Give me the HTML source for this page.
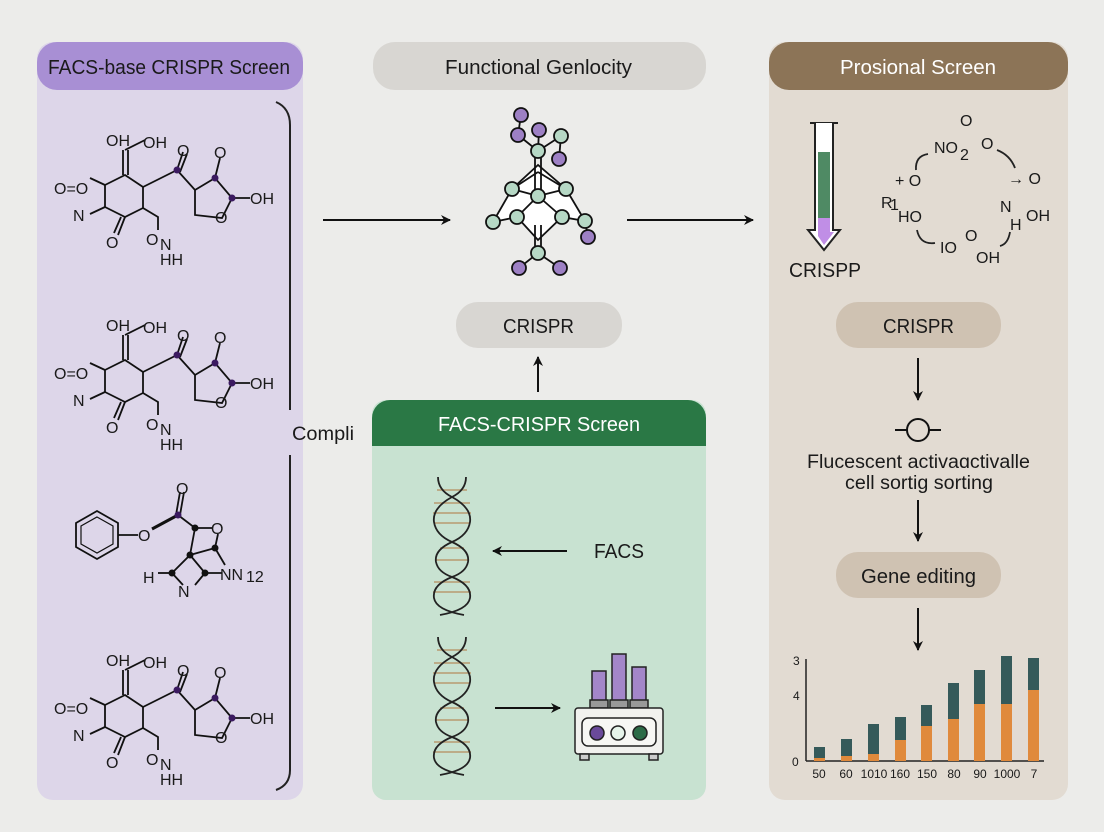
<!DOCTYPE html>
<html><head><meta charset="utf-8"><style>
html,body{margin:0;padding:0;background:#ececea;}
svg{display:block;}
text{font-family:"Liberation Sans",sans-serif;fill:#1a1a1a;}
.m text{font-family:"Liberation Sans",sans-serif;font-size:16px;}
</style></head><body>
<svg width="1104" height="832" viewBox="0 0 1104 832" xmlns="http://www.w3.org/2000/svg">
<defs>
<marker id="ar" markerWidth="10" markerHeight="10" refX="9" refY="5" orient="auto" markerUnits="userSpaceOnUse">
<path d="M0,0 L10,5 L0,10 L3,5 z" fill="#111"/></marker>
</defs>
<rect width="1104" height="832" fill="#ececea"/>
<!-- left panel -->
<rect x="37" y="42" width="266" height="758" rx="16" fill="#ddd6e9"/>
<rect x="37" y="42" width="266" height="48" rx="20" fill="#a88fd4"/>
<text x="48" y="74" font-size="20" textLength="242" lengthAdjust="spacingAndGlyphs">FACS-base CRISPR Screen</text>
<!-- middle header -->
<rect x="373" y="42" width="333" height="48" rx="22" fill="#d8d6d2"/>
<text x="445" y="74" font-size="20" textLength="187" lengthAdjust="spacingAndGlyphs">Functional Genlocity</text>
<!-- right panel -->
<rect x="769" y="42" width="299" height="758" rx="16" fill="#e2dbd2"/>
<rect x="769" y="42" width="299" height="48" rx="20" fill="#8c7457"/>
<text x="840" y="74" font-size="20" textLength="156" lengthAdjust="spacingAndGlyphs" style="fill:#fff">Prosional Screen</text>
<!-- green panel -->
<rect x="372" y="400" width="334" height="400" rx="14" fill="#c8e2d1"/>
<rect x="372" y="400" width="334" height="46" rx="18" fill="#2a7845"/>
<rect x="372" y="425" width="334" height="21" fill="#2a7845"/>
<text x="438" y="431" font-size="20" textLength="202" lengthAdjust="spacingAndGlyphs" style="fill:#fff">FACS-CRISPR Screen</text>
<!-- pills -->
<rect x="456" y="302" width="166" height="46" rx="22" fill="#d8d6d2"/>
<text x="503" y="333" font-size="20" textLength="71" lengthAdjust="spacingAndGlyphs">CRISPR</text>
<rect x="836" y="302" width="165" height="46" rx="22" fill="#cfc2b2"/>
<text x="883" y="333" font-size="20" textLength="71" lengthAdjust="spacingAndGlyphs">CRISPR</text>
<rect x="836" y="552" width="165" height="46" rx="22" fill="#cfc2b2"/>
<text x="861" y="583" font-size="20" textLength="115" lengthAdjust="spacingAndGlyphs">Gene editing</text>

<!-- bracket -->
<path d="M276,102 Q290,108 290,125 L290,410" fill="none" stroke="#222" stroke-width="2"/>
<path d="M290,455 L290,770 Q290,785 276,790" fill="none" stroke="#222" stroke-width="2"/>
<text x="292" y="440" font-size="19" textLength="62" lengthAdjust="spacingAndGlyphs">Compli</text>

<!-- molecules -->
<g class="m" fill="none" stroke="#111" stroke-width="1.8">
<polygon points="125,175 143,187 143,208 125,217 105,207 105,185"/>
<line x1="123" y1="175" x2="123" y2="150"/><line x1="128" y1="175" x2="128" y2="150"/>
<line x1="125" y1="150" x2="145" y2="140"/>
<line x1="143" y1="187" x2="177" y2="170"/>
<line x1="177" y1="170" x2="183" y2="152"/><line x1="180" y1="172" x2="187" y2="154"/>
<polyline points="177,170 195,190 215,178 232,198 222,218 195,215 195,190"/>
<line x1="215" y1="178" x2="220" y2="158"/>
<line x1="232" y1="198" x2="250" y2="198"/>
<line x1="105" y1="185" x2="90" y2="178"/>
<line x1="105" y1="207" x2="90" y2="214"/>
<line x1="125" y1="217" x2="118" y2="235"/><line x1="121" y1="217" x2="114" y2="233"/>
<polyline points="143,208 158,217 158,230"/>
<circle cx="177" cy="170" r="3.5" fill="#3b1a60" stroke="none"/>
<circle cx="215" cy="178" r="3.5" fill="#3b1a60" stroke="none"/>
<circle cx="232" cy="198" r="3.5" fill="#3b1a60" stroke="none"/>
<g stroke="none" fill="#111">
<text x="106" y="146">OH</text><text x="143" y="148">OH</text>
<text x="177" y="156">O</text><text x="214" y="158">O</text>
<text x="250" y="204">OH</text>
<text x="54" y="194">O=O</text>
<text x="73" y="221">N</text>
<text x="106" y="248">O</text>
<text x="146" y="245">O</text><text x="160" y="250">N</text>
<text x="160" y="265">HH</text>
<text x="215" y="223" font-size="14">O</text>
</g>
</g>
<g transform="translate(0,185)" class="m" fill="none" stroke="#111" stroke-width="1.8">
<polygon points="125,175 143,187 143,208 125,217 105,207 105,185"/>
<line x1="123" y1="175" x2="123" y2="150"/><line x1="128" y1="175" x2="128" y2="150"/>
<line x1="125" y1="150" x2="145" y2="140"/>
<line x1="143" y1="187" x2="177" y2="170"/>
<line x1="177" y1="170" x2="183" y2="152"/><line x1="180" y1="172" x2="187" y2="154"/>
<polyline points="177,170 195,190 215,178 232,198 222,218 195,215 195,190"/>
<line x1="215" y1="178" x2="220" y2="158"/>
<line x1="232" y1="198" x2="250" y2="198"/>
<line x1="105" y1="185" x2="90" y2="178"/>
<line x1="105" y1="207" x2="90" y2="214"/>
<line x1="125" y1="217" x2="118" y2="235"/><line x1="121" y1="217" x2="114" y2="233"/>
<polyline points="143,208 158,217 158,230"/>
<circle cx="177" cy="170" r="3.5" fill="#3b1a60" stroke="none"/>
<circle cx="215" cy="178" r="3.5" fill="#3b1a60" stroke="none"/>
<circle cx="232" cy="198" r="3.5" fill="#3b1a60" stroke="none"/>
<g stroke="none" fill="#111">
<text x="106" y="146">OH</text><text x="143" y="148">OH</text>
<text x="177" y="156">O</text><text x="214" y="158">O</text>
<text x="250" y="204">OH</text>
<text x="54" y="194">O=O</text>
<text x="73" y="221">N</text>
<text x="106" y="248">O</text>
<text x="146" y="245">O</text><text x="160" y="250">N</text>
<text x="160" y="265">HH</text>
<text x="215" y="223" font-size="14">O</text>
</g>
</g>
<g transform="translate(0,520)" class="m" fill="none" stroke="#111" stroke-width="1.8">
<polygon points="125,175 143,187 143,208 125,217 105,207 105,185"/>
<line x1="123" y1="175" x2="123" y2="150"/><line x1="128" y1="175" x2="128" y2="150"/>
<line x1="125" y1="150" x2="145" y2="140"/>
<line x1="143" y1="187" x2="177" y2="170"/>
<line x1="177" y1="170" x2="183" y2="152"/><line x1="180" y1="172" x2="187" y2="154"/>
<polyline points="177,170 195,190 215,178 232,198 222,218 195,215 195,190"/>
<line x1="215" y1="178" x2="220" y2="158"/>
<line x1="232" y1="198" x2="250" y2="198"/>
<line x1="105" y1="185" x2="90" y2="178"/>
<line x1="105" y1="207" x2="90" y2="214"/>
<line x1="125" y1="217" x2="118" y2="235"/><line x1="121" y1="217" x2="114" y2="233"/>
<polyline points="143,208 158,217 158,230"/>
<circle cx="177" cy="170" r="3.5" fill="#3b1a60" stroke="none"/>
<circle cx="215" cy="178" r="3.5" fill="#3b1a60" stroke="none"/>
<circle cx="232" cy="198" r="3.5" fill="#3b1a60" stroke="none"/>
<g stroke="none" fill="#111">
<text x="106" y="146">OH</text><text x="143" y="148">OH</text>
<text x="177" y="156">O</text><text x="214" y="158">O</text>
<text x="250" y="204">OH</text>
<text x="54" y="194">O=O</text>
<text x="73" y="221">N</text>
<text x="106" y="248">O</text>
<text x="146" y="245">O</text><text x="160" y="250">N</text>
<text x="160" y="265">HH</text>
<text x="215" y="223" font-size="14">O</text>
</g>
</g>
<!-- molecule 3 -->
<g class="m" fill="none" stroke="#111" stroke-width="1.8">
<polygon points="97,511 118,523 118,547 97,559 76,547 76,523"/>
<polygon points="97,517 113,526 113,544 97,553 81,544 81,526" stroke-width="1.2"/>
<line x1="118" y1="535" x2="138" y2="535"/>
<line x1="152" y1="529" x2="178" y2="515" stroke-width="3"/>
<line x1="176" y1="515" x2="180" y2="492"/><line x1="180" y1="515" x2="184" y2="492"/>
<polyline points="178,515 195,528 212,528"/>
<polyline points="195,528 190,555 172,573 183,585"/>
<polyline points="190,555 205,573 195,585"/>
<line x1="190" y1="555" x2="215" y2="548"/>
<line x1="215" y1="548" x2="218" y2="534"/>
<line x1="215" y1="548" x2="225" y2="565"/>
<line x1="205" y1="573" x2="222" y2="573"/>
<line x1="158" y1="573" x2="172" y2="573"/>
<g fill="#111" stroke="none">
<circle cx="178" cy="515" r="3.5" fill="#3b1a60"/>
<circle cx="195" cy="528" r="3.5"/><circle cx="215" cy="548" r="3.5"/>
<circle cx="190" cy="555" r="3.5"/><circle cx="172" cy="573" r="3.5"/><circle cx="205" cy="573" r="3.5"/>
<text x="138" y="541">O</text>
<text x="176" y="494">O</text>
<text x="211" y="534">O</text>
<text x="143" y="583">H</text>
<text x="178" y="597">N</text>
<text x="220" y="580">NN</text><text x="246" y="582" font-size="10">12</text>
</g>
</g>

<!-- main arrows -->
<line x1="323" y1="220" x2="450" y2="220" stroke="#111" stroke-width="2" marker-end="url(#ar)"/>
<line x1="627" y1="220" x2="753" y2="220" stroke="#111" stroke-width="2" marker-end="url(#ar)"/>
<line x1="538" y1="392" x2="538" y2="357" stroke="#111" stroke-width="2" marker-end="url(#ar)"/>

<!-- network -->
<g stroke="#111" stroke-width="1.8">
<polygon points="538,165 512,189 493,222 517,217 538,240 562,217 585,221 566,189" fill="#fff"/>
<line x1="535" y1="151" x2="535" y2="190"/><line x1="541" y1="151" x2="541" y2="190"/>
<line x1="535" y1="225" x2="535" y2="253"/><line x1="541" y1="225" x2="541" y2="253"/>
<line x1="512" y1="189" x2="538" y2="196"/><line x1="566" y1="189" x2="538" y2="196"/>
<line x1="538" y1="196" x2="517" y2="217"/><line x1="538" y1="196" x2="562" y2="217"/>
<line x1="512" y1="189" x2="538" y2="172"/><line x1="566" y1="189" x2="538" y2="172"/>
<line x1="521" y1="115" x2="518" y2="135"/><line x1="518" y1="135" x2="538" y2="151"/>
<line x1="539" y1="130" x2="538" y2="151"/><line x1="561" y1="136" x2="538" y2="151"/>
<line x1="561" y1="136" x2="559" y2="159"/>
<line x1="585" y1="221" x2="588" y2="237"/>
<line x1="538" y1="253" x2="519" y2="268"/><line x1="538" y1="253" x2="560" y2="268"/>
<g fill="#b6d8c5">
<circle cx="538" cy="151" r="7"/><circle cx="561" cy="136" r="7"/>
<circle cx="512" cy="189" r="7"/><circle cx="538" cy="196" r="7"/><circle cx="566" cy="189" r="7"/>
<circle cx="493" cy="222" r="7"/><circle cx="517" cy="217" r="7"/><circle cx="562" cy="217" r="7"/><circle cx="585" cy="221" r="7"/>
<circle cx="538" cy="253" r="7"/>
</g>
<g fill="#9d80c4">
<circle cx="521" cy="115" r="7"/><circle cx="518" cy="135" r="7"/><circle cx="539" cy="130" r="7"/>
<circle cx="559" cy="159" r="7"/><circle cx="588" cy="237" r="7"/>
<circle cx="519" cy="268" r="7"/><circle cx="560" cy="268" r="7"/>
</g>
</g>

<!-- DNA -->
<g fill="none" stroke-width="1.8">
<g stroke="#b89a70" stroke-width="1.5">
<line x1="437" y1="490" x2="467" y2="490"/><line x1="434" y1="503" x2="470" y2="503"/><line x1="433" y1="513" x2="471" y2="513"/><line x1="434" y1="523" x2="470" y2="523"/>
<line x1="440" y1="548" x2="464" y2="548"/><line x1="436" y1="560" x2="468" y2="560"/>
<line x1="434" y1="582" x2="470" y2="582"/><line x1="433" y1="592" x2="471" y2="592"/>
<line x1="437" y1="650" x2="467" y2="650"/><line x1="434" y1="663" x2="470" y2="663"/><line x1="433" y1="673" x2="471" y2="673"/><line x1="434" y1="683" x2="470" y2="683"/>
<line x1="440" y1="708" x2="464" y2="708"/><line x1="436" y1="720" x2="468" y2="720"/>
<line x1="434" y1="742" x2="470" y2="742"/><line x1="433" y1="752" x2="471" y2="752"/>
</g>
<g stroke="#222">
<path d="M438,477 Q438,490 452,497 Q472,508 470,522 Q468,535 452,542 Q434,550 436,562 Q438,572 452,577 Q472,585 470,598 Q468,610 440,615"/>
<path d="M466,477 Q466,490 452,497 Q432,508 434,522 Q436,535 452,542 Q470,550 468,562 Q466,572 452,577 Q432,585 434,598 Q436,610 464,615"/>
<path d="M438,637 Q438,650 452,657 Q472,668 470,682 Q468,695 452,702 Q434,710 436,722 Q438,732 452,737 Q472,745 470,758 Q468,770 440,775"/>
<path d="M466,637 Q466,650 452,657 Q432,668 434,682 Q436,695 452,702 Q470,710 468,722 Q466,732 452,737 Q432,745 434,758 Q436,770 464,775"/>
</g>
</g>
<line x1="567" y1="551" x2="493" y2="551" stroke="#111" stroke-width="2" marker-end="url(#ar)"/>
<text x="594" y="558" font-size="20" textLength="50" lengthAdjust="spacingAndGlyphs">FACS</text>
<line x1="495" y1="708" x2="560" y2="708" stroke="#111" stroke-width="2" marker-end="url(#ar)"/>

<!-- instrument -->
<g stroke="#222" stroke-width="1.5">
<rect x="592" y="671" width="14" height="30" fill="#a386c9"/>
<rect x="612" y="654" width="14" height="47" fill="#a386c9"/>
<rect x="632" y="667" width="14" height="34" fill="#a386c9"/>
<rect x="590" y="700" width="18" height="8" fill="#999"/>
<rect x="610" y="700" width="18" height="8" fill="#999"/>
<rect x="630" y="700" width="18" height="8" fill="#999"/>
<rect x="575" y="708" width="88" height="46" rx="3" fill="#f1f1ee"/>
<rect x="582" y="718" width="74" height="28" rx="6" fill="#f7f7f4"/>
<circle cx="597" cy="733" r="7" fill="#6a4a9a"/>
<circle cx="618" cy="733" r="7" fill="#e6f4ea"/>
<circle cx="640" cy="733" r="7" fill="#2c6b47"/>
<rect x="580" y="754" width="9" height="6" fill="#ccc"/><rect x="649" y="754" width="9" height="6" fill="#ccc"/>
</g>

<!-- right panel content -->
<g stroke="#222" stroke-width="2">
<line x1="810" y1="123" x2="838" y2="123"/>
<path d="M815,123 L815,230 L808,230 L824,250 L840,230 L833,230 L833,123" fill="#fff"/>
</g>
<rect x="818" y="152" width="12" height="66" fill="#4f8a64"/>
<path d="M818,218 L830,218 L830,232 L834,232 L824,245 L818,236 z" fill="#c08ee6"/>
<text x="789" y="277" font-size="20" textLength="72" lengthAdjust="spacingAndGlyphs">CRISPP</text>

<g class="m" fill="none" stroke="#222" stroke-width="1.8">
<path d="M928,154 Q915,156 916,170"/>
<path d="M997,150 Q1010,155 1015,168"/>
<path d="M917,230 Q920,245 935,243"/>
<path d="M1010,232 Q1008,244 1000,246"/>
<g stroke="none" fill="#111">
<text x="934" y="153">NO</text><text x="960" y="160" font-size="12">2</text>
<text x="960" y="126">O</text><text x="981" y="149">O</text>
<text x="895" y="186">+ O</text>
<text x="881" y="208" font-size="14">R</text><text x="890" y="210" font-size="10">1</text>
<text x="898" y="222">HO</text>
<text x="1008" y="184">→ O</text>
<text x="1000" y="212">N</text><text x="1026" y="221">OH</text>
<text x="1010" y="230">H</text>
<text x="940" y="253">IO</text><text x="965" y="241">O</text><text x="976" y="263">OH</text>
</g>
</g>

<line x1="918" y1="358" x2="918" y2="400" stroke="#111" stroke-width="2" marker-end="url(#ar)"/>
<line x1="895" y1="430" x2="941" y2="430" stroke="#111" stroke-width="2"/>
<circle cx="918" cy="430" r="11" fill="#e2dbd2" stroke="#111" stroke-width="2"/>
<text x="807" y="468" font-size="19" textLength="223" lengthAdjust="spacingAndGlyphs">Flucescent activaɑctivalle</text>
<text x="845" y="489" font-size="19" textLength="148" lengthAdjust="spacingAndGlyphs">cell sortig sorting</text>
<line x1="918" y1="500" x2="918" y2="541" stroke="#111" stroke-width="2" marker-end="url(#ar)"/>
<line x1="918" y1="608" x2="918" y2="650" stroke="#111" stroke-width="2" marker-end="url(#ar)"/>

<!-- chart -->
<line x1="806" y1="659" x2="806" y2="761" stroke="#222" stroke-width="1.5"/>
<line x1="806" y1="761" x2="1044" y2="761" stroke="#222" stroke-width="1.5"/>
<g font-size="12"><text x="793" y="665">3</text><text x="793" y="700">4</text><text x="792" y="766">0</text></g>
<g>
<rect x="814" y="747" width="11" height="14" fill="#355a5a"/><rect x="814" y="758" width="11" height="3" fill="#e08a3c"/>
<rect x="841" y="739" width="11" height="22" fill="#355a5a"/><rect x="841" y="756" width="11" height="5" fill="#e08a3c"/>
<rect x="868" y="724" width="11" height="37" fill="#355a5a"/><rect x="868" y="754" width="11" height="7" fill="#e08a3c"/>
<rect x="895" y="717" width="11" height="44" fill="#355a5a"/><rect x="895" y="740" width="11" height="21" fill="#e08a3c"/>
<rect x="921" y="705" width="11" height="56" fill="#355a5a"/><rect x="921" y="726" width="11" height="35" fill="#e08a3c"/>
<rect x="948" y="683" width="11" height="78" fill="#355a5a"/><rect x="948" y="719" width="11" height="42" fill="#e08a3c"/>
<rect x="974" y="670" width="11" height="91" fill="#355a5a"/><rect x="974" y="704" width="11" height="57" fill="#e08a3c"/>
<rect x="1001" y="656" width="11" height="105" fill="#355a5a"/><rect x="1001" y="704" width="11" height="57" fill="#e08a3c"/>
<rect x="1028" y="658" width="11" height="103" fill="#355a5a"/><rect x="1028" y="690" width="11" height="71" fill="#e08a3c"/>
</g>
<g font-size="12" text-anchor="middle">
<text x="819" y="778">50</text><text x="846" y="778">60</text><text x="874" y="778">1010</text><text x="900" y="778">160</text><text x="927" y="778">150</text><text x="954" y="778">80</text><text x="980" y="778">90</text><text x="1007" y="778">1000</text><text x="1034" y="778">7</text>
</g>
</svg>
</body></html>
